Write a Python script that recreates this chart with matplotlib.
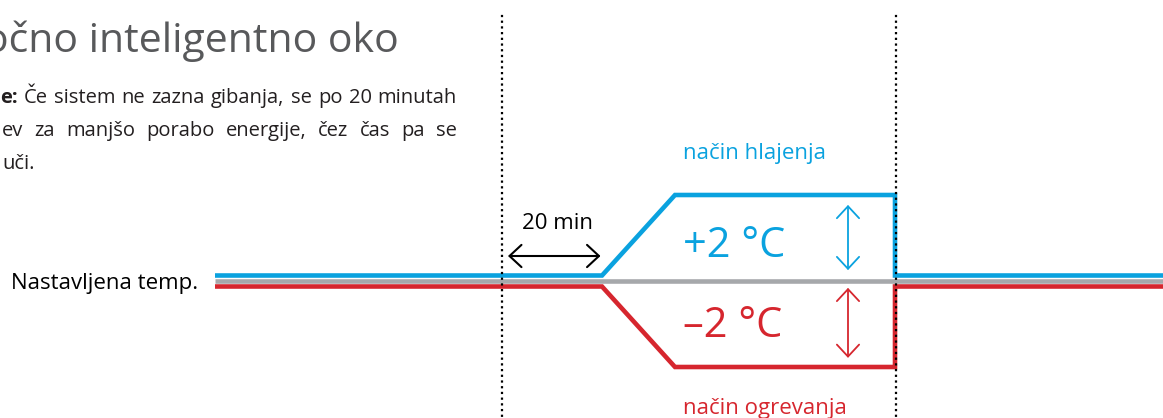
import matplotlib
matplotlib.use("Agg")
import matplotlib.pyplot as plt
from matplotlib.transforms import ScaledTranslation

# ---------------- data ----------------
time_min = [-57.4, 20.0, 34.6, 78.6, 78.6, 132.2]      # breakpoints (minutes)
cool_offset = [0, 0, 2, 2, 0, 0]                       # cooling mode: +2 °C
heat_offset = [0, 0, -2, -2, 0, 0]                     # heating mode: -2 °C
setpoint_time = [-57.4, 132.2]
setpoint_offset = [0, 0]
delay_span = [0.0, 20.0]                               # 20 min delay
window_marks = [0.0, 78.8]                             # dotted markers
cool_arrow = (69.2, 0.27, 1.89)
heat_arrow = (69.2, -0.17, -1.91)

title_text = "očno inteligentno oko"
para_line1 = ["e:", "Če", "sistem", "ne", "zazna", "gibanja,", "se", "po", "20", "minutah"]
para_line2 = ["ev", "za", "manjšo", "porabo", "energije,", "čez", "čas", "pa", "se"]
para_line3 = "uči."
label_set = "Nastavljena temp."
label_cool = "način hlajenja"
label_heat = "način ogrevanja"
label_plus = "+2 °C"
label_minus = "–2 °C"
label_delay = "20 min"

BLUE = "#0aa2df"
RED = "#d6262e"
GRAY = "#a6a8ab"
TITLE = "#58595b"
DARK = "#231f20"

plt.rcParams['font.family'] = ['Open Sans', 'DejaVu Sans']

W, H, DPI = 1163, 418, 100
fig = plt.figure(figsize=(W / DPI, H / DPI), dpi=DPI)
ax = fig.add_axes([0, 0, 1, 1])
ax.set_xlim(-100.4, -100.4 + W / 5.0)
ax.set_ylim((281 - H) / 40.25, 281 / 40.25)
ax.axis('off')


def X(px):
    return -100.4 + px / 5.0


def Y(py):
    return (281 - py) / 40.25


up = ax.transData + ScaledTranslation(0, 5.5 / DPI, fig.dpi_scale_trans)
down = ax.transData + ScaledTranslation(0, -5.5 / DPI, fig.dpi_scale_trans)

lw = 3.3
ax.plot(setpoint_time, setpoint_offset, color=GRAY, lw=lw, solid_capstyle='butt', zorder=2)
ax.plot(time_min, cool_offset, color=BLUE, lw=lw, transform=up,
        solid_joinstyle='miter', solid_capstyle='butt', zorder=3)
ax.plot(time_min, heat_offset, color=RED, lw=lw, transform=down,
        solid_joinstyle='miter', solid_capstyle='butt', zorder=3)

# dotted markers
for t in window_marks:
    ax.plot([t, t], [Y(16), Y(H + 5)], color='black', lw=1.6,
            linestyle=(0, (0.01, 2.56)), dash_capstyle='projecting', zorder=5)

# arrows
def darrow(x, y0, y1, color, lw_, hl, hw):
    ax.annotate('', xy=(x, y1), xytext=(x, y0),
                arrowprops=dict(arrowstyle=f'<->,head_length={hl},head_width={hw}',
                                color=color, lw=lw_, shrinkA=0, shrinkB=0,
                                mutation_scale=10), zorder=4)

darrow(cool_arrow[0], cool_arrow[1], cool_arrow[2], BLUE, 1.3, 0.86, 0.8)
darrow(heat_arrow[0], heat_arrow[1], heat_arrow[2], RED, 1.3, 0.86, 0.8)
ax.annotate('', xy=(delay_span[1] - 0.3, Y(256)), xytext=(delay_span[0] + 1.2, Y(256)),
            arrowprops=dict(arrowstyle='<->,head_length=0.86,head_width=0.8',
                            color='black', lw=1.5, shrinkA=0, shrinkB=0, mutation_scale=10))

# labels
ax.text(X(558), Y(229), label_delay, color='black', fontsize=16, ha='center', va='baseline')
ax.text(X(683), Y(257), label_plus, color=BLUE, fontsize=30, ha='left', va='baseline')
ax.text(X(683), Y(337), label_minus, color=RED, fontsize=30, ha='left', va='baseline')
ax.text(X(683), Y(159), label_cool, color=BLUE, fontsize=16, ha='left', va='baseline')
ax.text(X(683), Y(414), label_heat, color=RED, fontsize=16, ha='left', va='baseline')
ax.text(X(198), Y(289), label_set, color='black', fontsize=16, ha='right', va='baseline')

# title and paragraph
ax.text(X(399), Y(52), title_text, color=TITLE, fontsize=29.5, ha='right', va='baseline')

renderer = fig.canvas.get_renderer()


def justified(words, x0, x1, y, size, bold_first=False):
    texts = []
    for i, w in enumerate(words):
        t = ax.text(0, Y(y), w, color=DARK, fontsize=size, ha='left', va='baseline',
                    fontweight='bold' if (bold_first and i == 0) else 'normal')
        texts.append(t)
    widths = [t.get_window_extent(renderer).width for t in texts]
    gap = (x1 - x0 - sum(widths)) / (len(words) - 1)
    x = x0
    for t, w in zip(texts, widths):
        t.set_x(X(x))
        x += w + gap


PSIZE = 14.5
justified(para_line1, 0, 457, 103, PSIZE, bold_first=True)
justified(para_line2, 2, 457, 136, PSIZE)
ax.text(X(2), Y(169), para_line3, color=DARK, fontsize=PSIZE, ha='left', va='baseline')

fig.savefig("out.png", dpi=DPI)
